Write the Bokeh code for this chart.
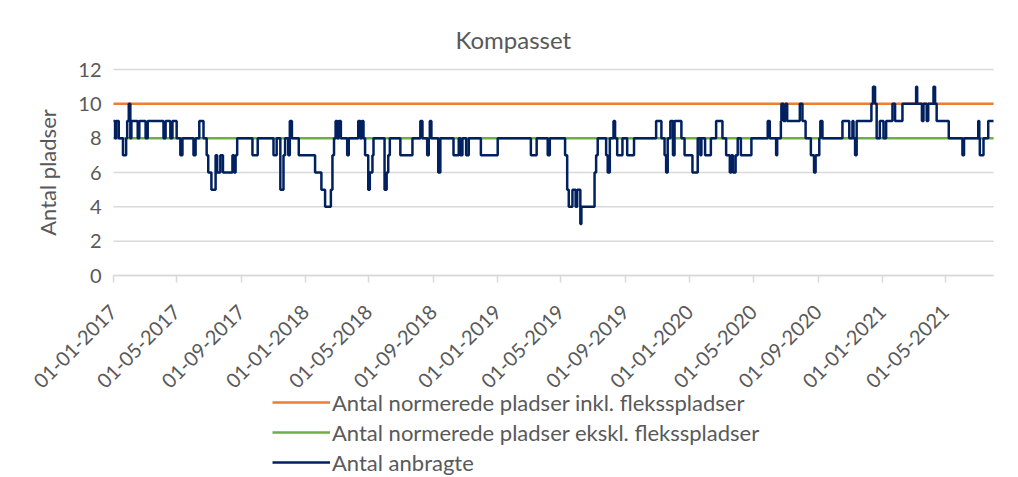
import math
import pandas as pd
from bokeh.plotting import figure
from bokeh.models import Legend, LegendItem, FixedTicker, DatetimeTickFormatter, Range1d, Label
from bokeh.embed import file_html
from bokeh.resources import INLINE

# ---- data -----------------------------------------------------------------
title_text = "Kompasset"
y_label = "Antal pladser"

# dates where "Antal anbragte" changes, and the value from that date on
change_dates = [
    "2017-01-01", "2017-01-04", "2017-01-06", "2017-01-11", "2017-01-19", "2017-01-25",
    "2017-01-27", "2017-01-30", "2017-02-02", "2017-02-04", "2017-02-16", "2017-02-19",
    "2017-03-03", "2017-03-07", "2017-04-06", "2017-04-10", "2017-04-19", "2017-04-23",
    "2017-05-01", "2017-05-08", "2017-05-12", "2017-06-02", "2017-06-06", "2017-06-13",
    "2017-06-21", "2017-06-27", "2017-06-30", "2017-07-06", "2017-07-14", "2017-07-17",
    "2017-07-23", "2017-07-28", "2017-08-15", "2017-08-18", "2017-08-21", "2017-08-24",
    "2017-09-22", "2017-10-02", "2017-11-01", "2017-11-07", "2017-11-14", "2017-11-20",
    "2017-11-23", "2017-11-29", "2017-12-02", "2017-12-06", "2017-12-19",
    "2018-01-19", "2018-01-31", "2018-02-07", "2018-02-18", "2018-02-21", "2018-02-24",
    "2018-02-27", "2018-03-02", "2018-03-05", "2018-03-09", "2018-03-21", "2018-03-24",
    "2018-04-11", "2018-04-15", "2018-04-18", "2018-04-21", "2018-04-24", "2018-04-30",
    "2018-05-03", "2018-05-08", "2018-05-10", "2018-05-31", "2018-06-04", "2018-06-07",
    "2018-06-10", "2018-06-30", "2018-07-23", "2018-08-07", "2018-08-11", "2018-08-20",
    "2018-08-23", "2018-08-25", "2018-08-28", "2018-09-10", "2018-09-14", "2018-10-09",
    "2018-10-19", "2018-10-22", "2018-10-26", "2018-11-02", "2018-11-07", "2018-11-30",
    "2019-01-01", "2019-03-05", "2019-03-16", "2019-04-06", "2019-04-10", "2019-05-09",
    "2019-05-13", "2019-05-16", "2019-05-23", "2019-05-29", "2019-06-01", "2019-06-07",
    "2019-06-09", "2019-07-04", "2019-07-07", "2019-07-10", "2019-07-26", "2019-07-29",
    "2019-08-02", "2019-08-09", "2019-08-12", "2019-08-16", "2019-08-26", "2019-09-04",
    "2019-09-17", "2019-10-29", "2019-11-08", "2019-11-14", "2019-11-17", "2019-11-20",
    "2019-11-25", "2019-11-30", "2019-12-03", "2019-12-16", "2019-12-22",
    "2020-01-06", "2020-01-16", "2020-01-21", "2020-01-23", "2020-01-30", "2020-02-10",
    "2020-02-20", "2020-03-03", "2020-03-10", "2020-03-17", "2020-03-20", "2020-03-23",
    "2020-03-28", "2020-04-01", "2020-04-07", "2020-04-27", "2020-05-28", "2020-06-01",
    "2020-06-13", "2020-06-15", "2020-06-22", "2020-06-23", "2020-06-27", "2020-07-01",
    "2020-07-04", "2020-07-28", "2020-08-02", "2020-08-08", "2020-08-18", "2020-08-24",
    "2020-08-27", "2020-09-03", "2020-09-05", "2020-09-09", "2020-10-17", "2020-10-30",
    "2020-11-05", "2020-11-07", "2020-11-10", "2020-11-13", "2020-12-11", "2020-12-14",
    "2020-12-18", "2020-12-21", "2020-12-27",
    "2021-01-03", "2021-01-08", "2021-01-20", "2021-01-25", "2021-02-08", "2021-03-06",
    "2021-03-08", "2021-03-17", "2021-03-20", "2021-03-26", "2021-03-29", "2021-04-08",
    "2021-04-11", "2021-04-14", "2021-05-07", "2021-06-02", "2021-06-05", "2021-07-02",
    "2021-07-04", "2021-07-05", "2021-07-12", "2021-07-21", "2021-07-31",
]
anbragte = [
    9, 8, 9, 8, 7, 8,
    9, 10, 8, 9, 8, 9,
    8, 9, 8, 9, 8, 9,
    8, 7, 8, 7, 8, 9,
    8, 7, 6, 5, 7, 6,
    7, 6, 7, 6, 7, 8,
    7, 8, 7, 8, 5, 7,
    8, 7, 9, 8, 7,
    6, 5, 4, 5, 7, 8,
    9, 8, 9, 8, 7, 8,
    9, 8, 9, 8, 7, 5,
    6, 7, 8, 5, 6, 7,
    8, 7, 8, 9, 8, 7,
    8, 9, 8, 6, 8, 7,
    8, 7, 8, 7, 8, 7,
    8, 7, 8, 7, 8, 7,
    5, 4, 5, 4, 5, 3,
    4, 6, 7, 8, 7, 6,
    8, 9, 8, 7, 8, 7,
    8, 9, 8, 7, 6, 8,
    9, 7, 9, 8, 7,
    6, 8, 7, 8, 7, 8,
    9, 8, 7, 6, 7, 6,
    7, 8, 7, 8, 9, 8,
    7, 8, 9, 10, 9, 10,
    9, 10, 9, 8, 7, 6,
    7, 8, 9, 8, 9, 8,
    9, 8, 7, 9, 10, 11,
    10, 8, 9,
    8, 9, 10, 9, 10, 11,
    10, 9, 10, 9, 10, 11,
    10, 9, 8, 7, 8, 9,
    8, 7, 8, 9, 9,
]

period = ["2017-01-01", "2021-07-31"]
norm_inkl = [10, 10]   # Antal normerede pladser inkl. fleksspladser
norm_ekskl = [8, 8]    # Antal normerede pladser ekskl. fleksspladser

series_names = [
    "Antal normerede pladser inkl. fleksspladser",
    "Antal normerede pladser ekskl. fleksspladser",
    "Antal anbragte",
]
series_colors = ["#ED7D31", "#70AD47", "#002060"]

tick_dates = [
    "2017-01-01", "2017-05-01", "2017-09-01", "2018-01-01", "2018-05-01", "2018-09-01",
    "2019-01-01", "2019-05-01", "2019-09-01", "2020-01-01", "2020-05-01", "2020-09-01",
    "2021-01-01", "2021-05-01",
]
y_ticks = [0, 2, 4, 6, 8, 10, 12]
y_max = 12

# ---- layout (pixels) --------------------------------------------------------
FONT = "Lato"
TXT = "#595959"
GRID = "#D9D9D9"

CANVAS_W = 1010
TOP = 55          # space above the frame (title)
EXTRA_TOP = 14    # frame room above the 12-line so its tick label is not cut
PLOT_L = 113      # left edge of the value band
PLOT_R = 17       # gap right of the value band
PLOT_H = 206      # height of the 0..12 band
BELOW = 202       # room under the band for date labels and legend
FRAME_H = EXTRA_TOP + PLOT_H + BELOW
PLOT_W = CANVAS_W - PLOT_L - PLOT_R


def to_ms(t):
    return float(pd.Timestamp(t).value // 10**6)


x_change = pd.to_datetime(change_dates)
x_period = pd.to_datetime(period)
t0_ms, t1_ms = to_ms(period[0]), to_ms(period[1])
span_ms = t1_ms - t0_ms
x_start = t0_ms - span_ms * (PLOT_L / PLOT_W)
x_end = t1_ms + span_ms * (PLOT_R / PLOT_W)
y_start = -y_max * (BELOW / PLOT_H)
y_end = y_max + y_max * (EXTRA_TOP / PLOT_H)

p = figure(
    frame_width=CANVAS_W, frame_height=FRAME_H,
    x_axis_type="datetime",
    x_range=Range1d(x_start, x_end),
    y_range=Range1d(y_start, y_end),
    output_backend="svg", toolbar_location=None,
    min_border_left=0, min_border_right=0, min_border_top=TOP, min_border_bottom=0,
)
p.outline_line_color = None
p.background_fill_color = "white"
p.border_fill_color = "white"

p.title.text = title_text
p.title.align = "left"
p.title.offset = 455
p.title.text_font = FONT
p.title.text_font_size = "24px"
p.title.text_font_style = "normal"
p.title.text_color = TXT
p.title.standoff = 4

# horizontal gridlines over the data period only
p.xgrid.visible = False
p.ygrid.visible = False
p.segment(x0=[x_period[0]] * len(y_ticks), x1=[x_period[1]] * len(y_ticks),
          y0=y_ticks, y1=y_ticks, line_color=GRID, line_width=1.5)

r1 = p.line(x_period, norm_inkl, line_color=series_colors[0], line_width=2.5)
r2 = p.line(x_period, norm_ekskl, line_color=series_colors[1], line_width=2.5)
r3 = p.step(x_change, anbragte, mode="after", line_color=series_colors[2], line_width=2.5)

# x axis, pinned at y = 0
p.xaxis.fixed_location = 0
p.xaxis.bounds = (t0_ms, t1_ms)
p.xaxis.ticker = FixedTicker(ticks=[to_ms(d) for d in tick_dates])
fmt = "%d-%m-%Y"
p.xaxis.formatter = DatetimeTickFormatter(
    milliseconds=fmt, seconds=fmt, minsec=fmt, minutes=fmt, hourmin=fmt, hours=fmt,
    days=fmt, months=fmt, years=fmt)
p.xaxis.major_label_orientation = math.pi / 4
p.xaxis.axis_line_color = GRID
p.xaxis.axis_line_width = 1.5
p.xaxis.major_tick_line_color = GRID
p.xaxis.major_tick_line_width = 1.5
p.xaxis.major_tick_out = 7
p.xaxis.major_tick_in = 0
p.xaxis.minor_tick_line_color = None
p.xaxis.major_label_text_font = FONT
p.xaxis.major_label_text_font_size = "20px"
p.xaxis.major_label_text_color = TXT
p.xaxis.major_label_standoff = 26

# y axis, pinned at the first date
p.yaxis.fixed_location = t0_ms
p.yaxis.bounds = (0, y_max)
p.yaxis.ticker = FixedTicker(ticks=y_ticks)
p.yaxis.axis_line_color = None
p.yaxis.major_tick_line_color = None
p.yaxis.minor_tick_line_color = None
p.yaxis.major_label_text_font = FONT
p.yaxis.major_label_text_font_size = "20px"
p.yaxis.major_label_text_color = TXT
p.yaxis.major_label_standoff = 6

p.add_layout(Label(
    x=t0_ms, y=y_max / 2, x_offset=-66, angle=math.pi / 2,
    text=y_label, text_align="center", text_baseline="middle",
    text_font=FONT, text_font_size="22px", text_color=TXT,
))

legend = Legend(
    items=[LegendItem(label=n, renderers=[r]) for n, r in zip(series_names, [r1, r2, r3])],
    location=(272, 0),
    orientation="vertical",
    border_line_color=None,
    background_fill_alpha=0,
    glyph_width=58, glyph_height=30,
    label_height=30,
    label_standoff=2,
    spacing=0, padding=0, margin=0,
    label_text_font=FONT,
    label_text_font_size="22px",
    label_text_color=TXT,
)
p.add_layout(legend, "center")

open("out.html", "w").write(file_html(p, INLINE))
